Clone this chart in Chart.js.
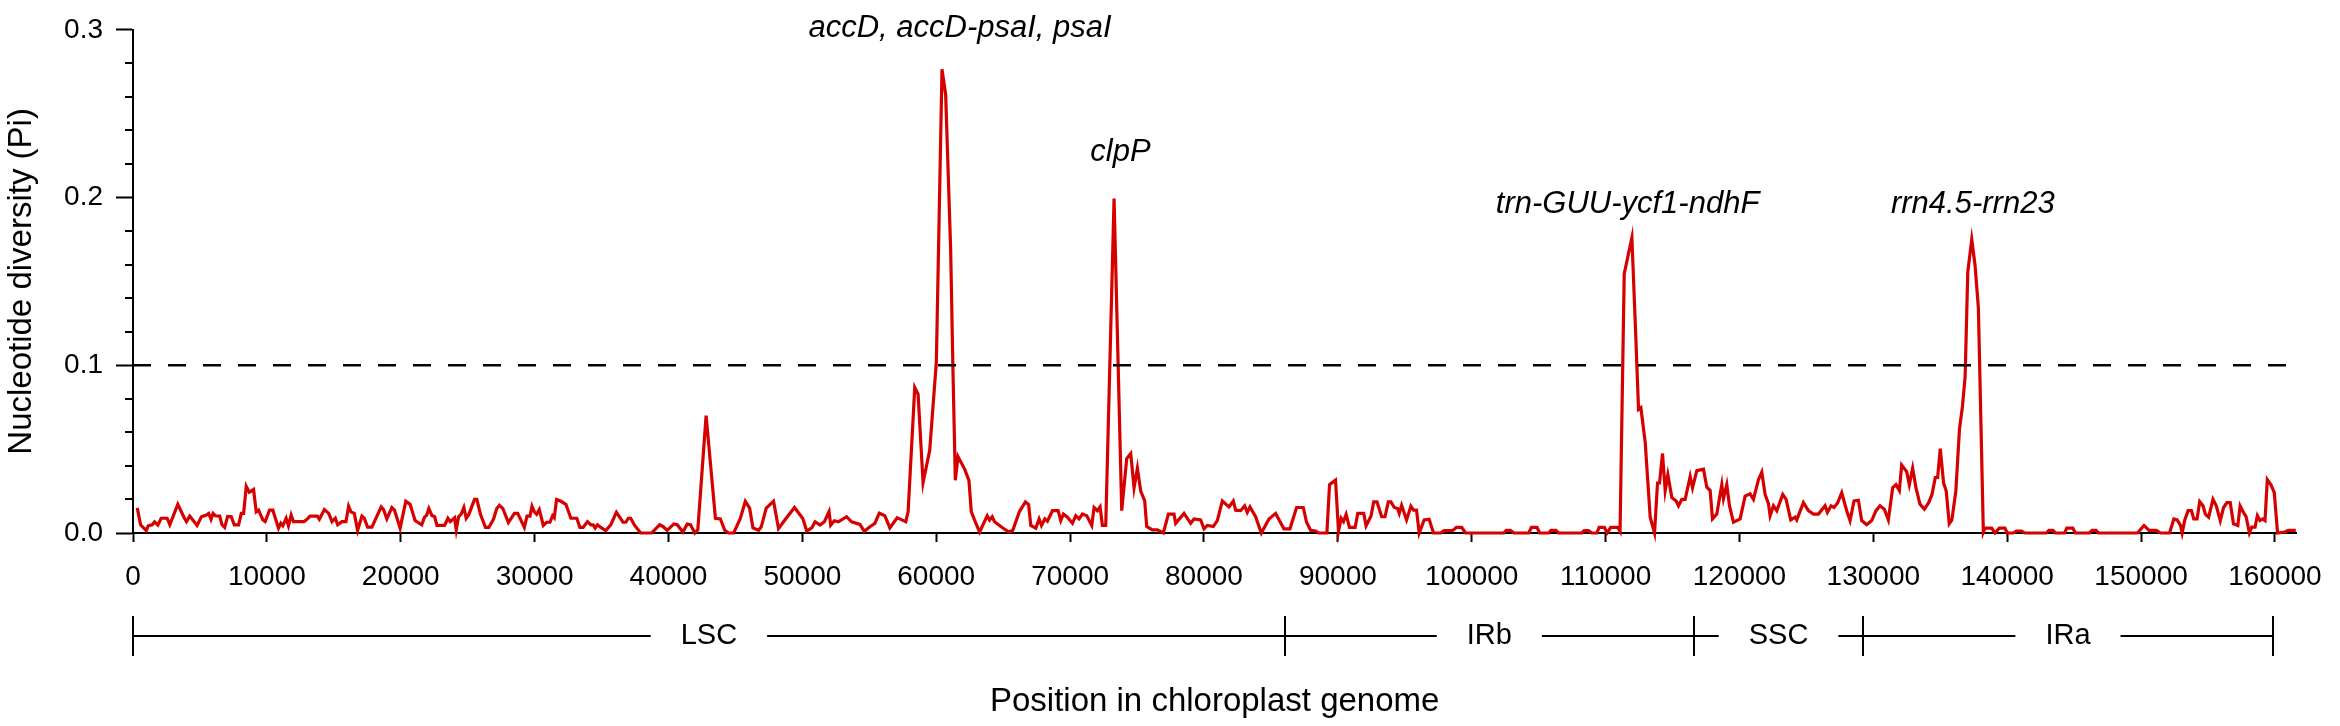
<!DOCTYPE html>
<html>
<head>
<meta charset="utf-8">
<script src="https://cdn.jsdelivr.net/npm/chart.js@4.4.1/dist/chart.umd.min.js"></script>
<style>
  html, body { margin: 0; padding: 0; background: #fff; }
  #wrap { width: 2340px; height: 726px; }
</style>
</head>
<body>
<div id="wrap"><canvas id="myChart"></canvas></div>
<script>
// sliding window positions (bp) and nucleotide diversity
const positions = [
  318, 566, 988, 1137, 1435, 1608, 1857, 2105, 2551, 2750, 3346, 3843, 3992, 4240, 4786, 5109, 5481, 5655, 5829, 5978,
  6152, 6474, 6648, 6847, 7070, 7343, 7567, 7889, 8088, 8262, 8460, 8684, 9006, 9205, 9379, 9701, 9875, 10198, 10446, 10868,
  11042, 11191, 11439, 11613, 11812, 11986, 12780, 13029, 13227, 13773, 13922, 14294, 14617, 14865, 15114, 15287, 15610, 15908, 16106, 16280,
  16529, 16777, 17100, 17273, 17522, 17844, 18539, 18713, 18961, 19334, 19532, 19954, 20376, 20699, 21071, 21568, 21766, 21940, 22100, 22330,
  22532, 22705, 23276, 23524, 23698, 23847, 24021, 24145, 24319, 24517, 24716, 24890, 25088, 25510, 25684, 25957, 26329, 26577, 26925, 27173,
  27372, 27620, 28042, 28488, 28737, 29233, 29432, 29655, 29804, 29978, 30152, 30350, 30648, 30896, 31145, 31343, 31467, 31641, 31964, 32336,
  32709, 33154, 33377, 33626, 33948, 34197, 34371, 34520, 34694, 34942, 35314, 35686, 36109, 36605, 36804, 37002, 37176, 37474, 37921, 38740,
  39335, 39583, 39906, 40402, 40651, 41073, 41395, 41644, 41967, 42190, 42810, 43505, 43877, 44200, 44498, 44870, 45366, 45738, 46061, 46309,
  46731, 46930, 47302, 47848, 48220, 48593, 49412, 50032, 50330, 50703, 50950, 51323, 51645, 51993, 52117, 52390, 52688, 53308, 53681, 54301,
  54624, 55046, 55418, 55741, 56163, 56535, 57081, 57354, 57726, 57900, 58396, 58644, 59017, 59513, 60009, 60431, 60705, 61077, 61250, 61425,
  61624, 62121, 62443, 62617, 62866, 63238, 63809, 63983, 64181, 64355, 64976, 65422, 65720, 66217, 66663, 66900, 67064, 67437, 67686, 67860,
  68109, 68308, 68681, 69104, 69303, 69502, 69801, 70174, 70423, 70672, 70920, 71244, 71617, 71791, 72040, 72239, 72413, 72662, 73284, 73856,
  74229, 74528, 74777, 75026, 75274, 75573, 75722, 76145, 76519, 76966, 77340, 77763, 77887, 78510, 79006, 79255, 79753, 80002, 80250, 80698,
  80997, 81370, 81868, 82191, 82365, 82738, 83037, 83236, 83435, 83858, 84281, 84854, 85351, 85973, 86421, 86918, 87416, 87665, 87964, 88337,
  88586, 89182, 89380, 89826, 90050, 90248, 90422, 90620, 90868, 91290, 91488, 91934, 92108, 92480, 92678, 92926, 93274, 93522, 93770, 93968,
  94216, 94464, 94588, 94762, 95134, 95456, 95654, 95878, 96076, 96448, 96820, 97142, 97688, 97936, 98556, 98854, 99250, 99548, 102400, 102574,
  102896, 103144, 104260, 104458, 104880, 105078, 105748, 105922, 106294, 106492, 108228, 108402, 108724, 108972, 109344, 109518, 109914, 110113, 110386, 110906,
  111080, 111392, 111964, 112212, 112461, 112635, 112958, 113332, 113655, 113880, 114030, 114253, 114452, 114651, 114949, 115273, 115447, 115696, 115945, 116318,
  116493, 116816, 117313, 117562, 117811, 117985, 118308, 118681, 118806, 119054, 119254, 119552, 120050, 120423, 120796, 121045, 121418, 121667, 121916, 122165,
  122289, 122538, 122787, 123234, 123483, 123831, 124155, 124279, 124777, 125150, 125523, 125897, 126394, 126568, 126842, 127066, 127340, 127638, 128011, 128260,
  128559, 128882, 129131, 129504, 129878, 130201, 130500, 130823, 131122, 131445, 131694, 131943, 132117, 132490, 132689, 132938, 133187, 133485, 133813, 134134,
  134383, 134630, 134803, 135000, 135248, 135446, 135669, 135867, 136164, 136436, 136659, 136857, 137055, 137352, 137600, 137847, 138218, 138342, 138837, 139084,
  139406, 139827, 140000, 140446, 140693, 141064, 141312, 142921, 143119, 143416, 143614, 144282, 144455, 144901, 145099, 146138, 146336, 146633, 146831, 149727,
  150222, 150593, 151138, 151459, 152128, 152450, 152697, 152945, 153068, 153266, 153514, 153761, 153935, 154183, 154380, 154628, 154801, 155049, 155370, 155618,
  155915, 156162, 156410, 156658, 156905, 157227, 157400, 157648, 157846, 158093, 158266, 158514, 158687, 158885, 159082, 159257, 159429, 159701, 159949, 160196,
  160740, 160988, 161557
];
const piValues = [
  0.0150, 0.0049, 0.0014, 0.0043, 0.0049, 0.0066, 0.0047, 0.0088, 0.0088, 0.0049, 0.0171, 0.0088, 0.0068, 0.0101, 0.0045, 0.0097, 0.0107, 0.0117, 0.0082, 0.0117,
  0.0103, 0.0101, 0.0049, 0.0033, 0.0099, 0.0097, 0.0049, 0.0049, 0.0117, 0.0117, 0.0278, 0.0243, 0.0259, 0.0126, 0.0136, 0.0078, 0.0068, 0.0136, 0.0136, 0.0029,
  0.0058, 0.0043, 0.0088, 0.0043, 0.0107, 0.0068, 0.0068, 0.0084, 0.0101, 0.0101, 0.0082, 0.0140, 0.0117, 0.0068, 0.0088, 0.0049, 0.0068, 0.0068, 0.0160, 0.0126,
  0.0117, 0.0016, 0.0101, 0.0088, 0.0035, 0.0035, 0.0156, 0.0140, 0.0084, 0.0152, 0.0136, 0.0029, 0.0189, 0.0171, 0.0074, 0.0049, 0.0093, 0.0107, 0.0146, 0.0104,
  0.0097, 0.0045, 0.0045, 0.0088, 0.0068, 0.0078, 0.0091, 0.0019, 0.0097, 0.0113, 0.0152, 0.0088, 0.0111, 0.0200, 0.0200, 0.0111, 0.0033, 0.0033, 0.0082, 0.0146,
  0.0165, 0.0146, 0.0062, 0.0117, 0.0117, 0.0033, 0.0101, 0.0101, 0.0160, 0.0126, 0.0111, 0.0140, 0.0045, 0.0064, 0.0064, 0.0103, 0.0091, 0.0200, 0.0189, 0.0171,
  0.0088, 0.0088, 0.0033, 0.0033, 0.0068, 0.0049, 0.0049, 0.0029, 0.0049, 0.0033, 0.0014, 0.0049, 0.0123, 0.0064, 0.0064, 0.0088, 0.0088, 0.0045, 0.0000, 0.0000,
  0.0049, 0.0039, 0.0016, 0.0054, 0.0049, 0.0006, 0.0053, 0.0049, 0.0000, 0.0019, 0.0700, 0.0088, 0.0084, 0.0016, 0.0000, 0.0000, 0.0087, 0.0189, 0.0148, 0.0030,
  0.0016, 0.0037, 0.0148, 0.0189, 0.0026, 0.0067, 0.0152, 0.0087, 0.0012, 0.0030, 0.0067, 0.0047, 0.0067, 0.0128, 0.0047, 0.0073, 0.0067, 0.0097, 0.0067, 0.0051,
  0.0010, 0.0037, 0.0057, 0.0118, 0.0103, 0.0030, 0.0091, 0.0081, 0.0067, 0.0128, 0.0868, 0.0828, 0.0300, 0.0493, 0.1020, 0.2765, 0.2613, 0.1690, 0.0970, 0.0314,
  0.0456, 0.0381, 0.0314, 0.0128, 0.0077, 0.0006, 0.0103, 0.0077, 0.0097, 0.0067, 0.0030, 0.0006, 0.0016, 0.0128, 0.0185, 0.0170, 0.0045, 0.0029, 0.0084, 0.0045,
  0.0084, 0.0070, 0.0133, 0.0133, 0.0074, 0.0113, 0.0094, 0.0058, 0.0103, 0.0084, 0.0113, 0.0103, 0.0045, 0.0152, 0.0133, 0.0156, 0.0045, 0.0045, 0.1994, 0.0133,
  0.0444, 0.0474, 0.0269, 0.0386, 0.0250, 0.0191, 0.0039, 0.0019, 0.0019, 0.0000, 0.0113, 0.0113, 0.0058, 0.0117, 0.0058, 0.0084, 0.0078, 0.0025, 0.0045, 0.0039,
  0.0074, 0.0191, 0.0156, 0.0191, 0.0136, 0.0133, 0.0162, 0.0123, 0.0156, 0.0097, 0.0000, 0.0084, 0.0117, 0.0025, 0.0025, 0.0152, 0.0152, 0.0064, 0.0016, 0.0012,
  0.0000, 0.0000, 0.0288, 0.0315, 0.0010, 0.0088, 0.0068, 0.0111, 0.0033, 0.0033, 0.0117, 0.0117, 0.0043, 0.0101, 0.0185, 0.0185, 0.0097, 0.0097, 0.0185, 0.0185,
  0.0152, 0.0146, 0.0117, 0.0165, 0.0078, 0.0160, 0.0136, 0.0136, 0.0000, 0.0078, 0.0082, 0.0000, 0.0000, 0.0014, 0.0014, 0.0033, 0.0033, 0.0000, 0.0000, 0.0016,
  0.0016, 0.0000, 0.0000, 0.0033, 0.0033, 0.0000, 0.0000, 0.0016, 0.0016, 0.0000, 0.0000, 0.0014, 0.0014, 0.0000, 0.0000, 0.0033, 0.0033, 0.0000, 0.0033, 0.0033,
  0.0010, 0.1546, 0.1760, 0.1263, 0.0737, 0.0747, 0.0542, 0.0094, 0.0000, 0.0298, 0.0298, 0.0474, 0.0253, 0.0347, 0.0211, 0.0191, 0.0162, 0.0201, 0.0201, 0.0337,
  0.0269, 0.0372, 0.0380, 0.0273, 0.0253, 0.0084, 0.0113, 0.0288, 0.0205, 0.0288, 0.0162, 0.0064, 0.0084, 0.0220, 0.0234, 0.0201, 0.0318, 0.0363, 0.0230, 0.0175,
  0.0103, 0.0162, 0.0133, 0.0230, 0.0201, 0.0078, 0.0094, 0.0078, 0.0181, 0.0133, 0.0113, 0.0113, 0.0162, 0.0123, 0.0162, 0.0152, 0.0181, 0.0240, 0.0133, 0.0074,
  0.0191, 0.0195, 0.0074, 0.0049, 0.0074, 0.0133, 0.0162, 0.0142, 0.0078, 0.0269, 0.0288, 0.0253, 0.0405, 0.0366, 0.0288, 0.0386, 0.0269, 0.0172, 0.0142, 0.0181,
  0.0230, 0.0331, 0.0331, 0.0503, 0.0298, 0.0250, 0.0055, 0.0078, 0.0250, 0.0620, 0.0756, 0.0932, 0.1556, 0.1750, 0.1595, 0.1341, 0.0005, 0.0029, 0.0029, 0.0000,
  0.0029, 0.0029, 0.0000, 0.0000, 0.0012, 0.0012, 0.0000, 0.0000, 0.0016, 0.0016, 0.0000, 0.0000, 0.0029, 0.0029, 0.0000, 0.0000, 0.0016, 0.0016, 0.0000, 0.0000,
  0.0045, 0.0016, 0.0016, 0.0000, 0.0000, 0.0084, 0.0078, 0.0045, 0.0000, 0.0078, 0.0133, 0.0133, 0.0084, 0.0084, 0.0187, 0.0162, 0.0113, 0.0094, 0.0201, 0.0162,
  0.0074, 0.0152, 0.0181, 0.0181, 0.0055, 0.0045, 0.0162, 0.0123, 0.0097, 0.0000, 0.0035, 0.0035, 0.0103, 0.0074, 0.0084, 0.0074, 0.0318, 0.0288, 0.0240, 0.0000,
  0.0006, 0.0016, 0.0016
];

const threshold = 0.1;
const xMin = 0;
const xMax = 161600;
const xTicks = [0, 10000, 20000, 30000, 40000, 50000, 60000, 70000, 80000, 90000, 100000, 110000, 120000, 130000, 140000, 150000, 160000];
const yTicks = [0, 0.1, 0.2, 0.3];
const yMinorTicks = [0.02, 0.04, 0.06, 0.08, 0.12, 0.14, 0.16, 0.18, 0.22, 0.24, 0.26, 0.28];

// genome regions
const regionNames = ["LSC", "IRb", "SSC", "IRa"];
const regionBounds = [0, 86040, 116590, 129250, 159830];

// highly variable regions
const peakLabels = ["accD, accD-psaI, psaI", "clpP", "trn-GUU-ycf1-ndhF", "rrn4.5-rrn23"];
const peakX = [61780, 73760, 111640, 137430];
const peakY = [0.301, 0.227, 0.196, 0.196];

const FONT = "'Liberation Sans', Arial, sans-serif";

const extrasPlugin = {
    id: "extras",
    afterDraw(chart) {
        const ctx = chart.ctx;
        const xs = chart.scales.x;
        const ys = chart.scales.y;
        const area = chart.chartArea;
        ctx.save();
        ctx.strokeStyle = "#000";
        ctx.fillStyle = "#000";

        // minor ticks on y axis
        ctx.lineWidth = 2;
        ctx.beginPath();
        yMinorTicks.forEach(v => {
            const y = Math.round(ys.getPixelForValue(v));
            ctx.moveTo(area.left - 8, y);
            ctx.lineTo(area.left, y);
        });
        ctx.stroke();

        // region bar under the axis
        const barY = area.bottom + 103;
        ctx.font = "29px " + FONT;
        ctx.textAlign = "center";
        ctx.textBaseline = "middle";
        ctx.lineWidth = 2;
        ctx.beginPath();
        for (let i = 0; i < regionNames.length; i++) {
            const x0 = xs.getPixelForValue(regionBounds[i]);
            const x1 = xs.getPixelForValue(regionBounds[i + 1]);
            const mid = (x0 + x1) / 2;
            const half = ctx.measureText(regionNames[i]).width / 2 + 30;
            ctx.moveTo(x0, barY);
            ctx.lineTo(mid - half, barY);
            ctx.moveTo(mid + half, barY);
            ctx.lineTo(x1, barY);
            ctx.fillText(regionNames[i], mid, barY);
        }
        regionBounds.forEach(b => {
            const x = Math.round(xs.getPixelForValue(b));
            ctx.moveTo(x, barY - 20);
            ctx.lineTo(x, barY + 20);
        });
        ctx.stroke();

        // peak labels
        ctx.font = "italic 31px " + FONT;
        peakLabels.forEach((t, i) => {
            ctx.fillText(t, xs.getPixelForValue(peakX[i]), ys.getPixelForValue(peakY[i]));
        });
        ctx.restore();
    }
};

let chart;

function initChart() {
    const ctx = document.getElementById("myChart").getContext("2d");
    Chart.defaults.font.family = FONT;
    Chart.defaults.color = "#000";
    chart = new Chart(ctx, {
        type: "line",
        data: {
            datasets: [{
                label: "threshold",
                data: [{ x: xMin, y: threshold }, { x: xMax, y: threshold }],
                borderColor: "#000",
                borderWidth: 2.5,
                borderDash: [18, 17],
                pointRadius: 0
            }, {
                label: "Pi",
                data: positions.map((p, i) => ({ x: p, y: piValues[i] })),
                borderColor: "#d70000",
                borderWidth: 3.2,
                pointRadius: 0,
                tension: 0,
                clip: false
            }]
        },
        options: {
            responsive: true,
            maintainAspectRatio: false,
            animation: false,
            layout: { padding: { top: 19, right: 34, left: 0, bottom: 0 } },
            plugins: {
                legend: { display: false },
                tooltip: { enabled: false }
            },
            scales: {
                x: {
                    type: "linear",
                    min: xMin,
                    max: xMax,
                    afterBuildTicks: s => { s.ticks = xTicks.map(v => ({ value: v })); },
                    afterFit: s => { s.height = 193; },
                    grid: { drawOnChartArea: false, tickLength: 9, tickWidth: 2, tickColor: "#000" },
                    border: { color: "#000", width: 2 },
                    ticks: { font: { size: 28 }, padding: 18, maxRotation: 0, autoSkip: false, callback: v => String(v) },
                    title: { display: true, text: "Position in chloroplast genome", font: { size: 33 }, padding: { top: 0, bottom: 4 } }
                },
                y: {
                    min: 0,
                    max: 0.3,
                    afterBuildTicks: s => { s.ticks = yTicks.map(v => ({ value: v })); },
                    afterFit: s => { s.width = 133; },
                    grid: { drawOnChartArea: false, tickLength: 17, tickWidth: 2, tickColor: "#000" },
                    border: { color: "#000", width: 2 },
                    ticks: { font: { size: 28 }, padding: 13, callback: v => v.toFixed(1) },
                    title: { display: true, text: "Nucleotide diversity (Pi)", font: { size: 33 }, padding: { top: 2, bottom: 0 } }
                }
            }
        },
        plugins: [extrasPlugin]
    });
}

document.addEventListener("DOMContentLoaded", function() {
    initChart();
});
</script>
</body>
</html>
